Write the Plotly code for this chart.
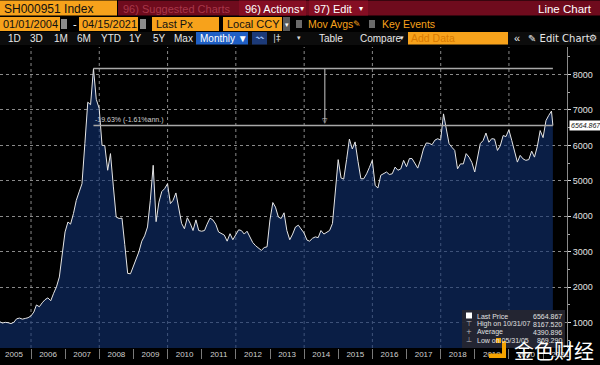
import pandas as pd
import plotly.graph_objects as go

# ---------------- data (monthly closes) ----------------
v2004 = [1030]
v2005 = [1030, 990, 1010, 1000, 975, 1010, 1110, 1130, 1100, 1120, 1140, 1190]
v2006 = [1300, 1500, 1450, 1560, 1650, 1700, 1620, 1830, 2010, 2290, 2900, 3560]
v2007 = [3840, 3780, 4080, 4450, 4690, 4920, 6050, 7220, 7150, 8167.52, 7300, 7050]
v2008 = [6000, 6000, 5300, 5770, 4830, 3980, 3940, 3950, 3200, 2390, 2380, 2600]
v2009 = [2800, 3000, 3300, 3450, 3700, 4450, 5440, 3850, 4400, 4700, 4780, 4920]
v2010 = [4360, 4450, 4660, 4250, 3800, 3650, 3960, 3800, 3600, 3900, 3600, 3580]
v2011 = [3600, 3780, 3950, 3900, 3780, 3560, 3520, 3470, 3300, 3510, 3340, 3500]
v2012 = [3620, 3600, 3500, 3580, 3400, 3260, 3170, 3100, 3040, 3120, 3140, 3900]
v2013 = [4390, 4260, 3980, 3940, 4100, 3600, 3340, 3500, 3700, 3750, 3650, 3530]
v2014 = [3330, 3300, 3380, 3420, 3400, 3600, 3500, 3550, 3600, 3800, 4700, 5600]
v2015 = [5080, 5050, 5600, 6180, 5900, 6100, 5550, 5060, 5060, 5200, 5380, 5580]
v2016 = [4870, 4800, 5160, 5200, 5250, 5180, 5200, 5390, 5300, 5340, 5580, 5400]
v2017 = [5630, 5630, 5500, 5360, 5600, 5900, 6070, 6060, 6020, 6150, 6190, 6150]
v2018 = [6890, 6510, 6050, 5950, 5860, 5340, 5480, 5480, 5770, 5670, 5520, 5250]
v2019 = [5670, 6050, 6140, 6350, 6090, 6190, 6180, 5860, 5990, 6280, 6250, 6440]
v2020 = [6140, 5860, 5530, 5720, 5620, 5580, 5600, 5840, 5670, 5980, 6420, 6220]
v2021 = [6700, 6840, 6970, 6564.867]

values = (v2004 + v2005 + v2006 + v2007 + v2008 + v2009 + v2010 + v2011 + v2012
          + v2013 + v2014 + v2015 + v2016 + v2017 + v2018 + v2019 + v2020 + v2021)
dates = list(pd.date_range("2004-12-31", "2021-03-31", freq=pd.offsets.MonthEnd()))
dates.append(pd.Timestamp("2021-04-15"))

last_price = 6564.867
high_price = 8167.52
high_date = "2007-10-31"
last_date = "2021-04-15"
arrow_date = "2014-08-10"
years = list(range(2005, 2022))
year_labels = [str(y) for y in years]
yticks = [1000, 2000, 3000, 4000, 5000, 6000, 7000, 8000]

# ---------------- layout helpers ----------------
W_PX, H_PX = 600, 365
ML, MR, MT, MB = 0, 33, 47, 17
PW, PH = W_PX - ML - MR, H_PX - MT - MB
FONT = "Liberation Sans"
ORANGE = "#f7a21b"

shapes, annots = [], []


def px(x):
    return (x - ML) / PW


def py(y):
    return (H_PX - MB - y) / PH


def box(x0, y0, x1, y1, color, layer="above"):
    shapes.append(dict(type="rect", xref="paper", yref="paper",
                       x0=px(x0), x1=px(x1), y0=py(y1), y1=py(y0),
                       fillcolor=color, line=dict(width=0), layer=layer))


def label(x, y, text, color="#ffffff", size=11, anchor="left", family=FONT):
    annots.append(dict(xref="paper", yref="paper", x=px(x), y=py(y), text=text,
                       showarrow=False, xanchor=anchor, yanchor="middle",
                       borderpad=0, font=dict(family=family, size=size, color=color)))


# ---------------- figure ----------------
fig = go.Figure()
fig.add_trace(go.Scatter(
    x=dates, y=values, mode="lines",
    line=dict(color="#e6e6e6", width=1),
    fill="tozeroy", fillcolor="rgba(16,48,112,0.62)",
    hoverinfo="skip", showlegend=False))

# vertical dotted grid every two years
for yr in range(2006, 2021, 2):
    shapes.append(dict(type="line", xref="x", yref="paper", x0=f"{yr}-01-01", x1=f"{yr}-01-01",
                       y0=0, y1=1, line=dict(color="#8a8a8a", width=1, dash="dot"), layer="below"))

# high / last price lines and arrow
shapes.append(dict(type="line", xref="x", yref="y", x0=high_date, x1=last_date,
                   y0=high_price, y1=high_price, line=dict(color="#a8a8a8", width=1.5)))
shapes.append(dict(type="line", xref="x", yref="y", x0=high_date, x1=last_date,
                   y0=last_price, y1=last_price, line=dict(color="#a8a8a8", width=1.5)))
shapes.append(dict(type="line", xref="x", yref="y", x0=arrow_date, x1=arrow_date,
                   y0=high_price, y1=last_price + 80, line=dict(color="#a8a8a8", width=1.2)))
annots.append(dict(xref="x", yref="y", x=arrow_date, y=last_price, text="▽", showarrow=False,
                   yanchor="bottom", xanchor="center", yshift=-1, borderpad=0,
                   font=dict(family="DejaVu Sans", size=7, color="#c8c8c8")))
annots.append(dict(xref="x", yref="y", x=high_date, y=last_price, text="-19.63% (-1.61%ann.)",
                   showarrow=False, xanchor="left", yanchor="bottom", xshift=1, yshift=0,
                   borderpad=0, font=dict(family=FONT, size=7, color="#d0d0d0")))

# last price tag on the axis
annots.append(dict(xref="paper", yref="y", x=px(569), y=last_price, text="<i>6564.867</i>",
                   showarrow=False, xanchor="left", yanchor="middle", bgcolor="#ffffff",
                   borderpad=1, font=dict(family=FONT, size=7, color="#111111")))

# ---- toolbar row 1 ----
box(0, 0, 600, 16, "#000000")
box(0, 0.5, 117, 15.5, ORANGE)
label(3, 8.5, "SH000951 Index", "#111111", 12)
box(118, 0.5, 600, 15.5, "#6f0b1d")
label(122, 8.5, "96) Suggested Charts", "#a8374a", 11)
box(239, 0.5, 306, 15.5, "#850e23")
label(244, 8.5, "96) Actions", "#ffffff", 11)
label(299, 8.5, "▾", "#ffffff", 8)
box(309, 0.5, 368, 15.5, "#850e23")
label(313, 8.5, "97) Edit", "#ffffff", 11)
label(358, 8.5, "▾", "#ffffff", 8)
label(593, 8.5, "Line Chart", "#ffffff", 11.5, anchor="right")

# ---- toolbar row 2 ----
box(0, 17, 60, 31, ORANGE)
label(2, 24.5, "01/01/2004", "#111111", 11)
box(61, 19, 67, 29, "#8a8a8a")
label(72, 24, "-", "#ffffff", 11)
box(79, 17, 138, 31, ORANGE)
label(81, 24.5, "04/15/2021", "#111111", 11)
box(140, 19, 146, 29, "#8a8a8a")
box(152, 17, 219, 31, ORANGE)
label(155, 24.5, "Last Px", "#111111", 11)
box(223, 17, 282, 31, ORANGE)
label(226, 24.5, "Local CCY", "#111111", 11)
box(283, 17, 290, 31, "#5a5a5a")
label(286.5, 24, "▾", "#ffffff", 7, anchor="center")
box(296, 20, 302, 28, "#6a6a6a")
label(307, 24.5, "Mov Avgs", ORANGE, 10.5)
label(352, 24, "✎", ORANGE, 9, family="DejaVu Sans")
box(369, 20, 375, 28, "#6a6a6a")
label(381, 24.5, "Key Events", ORANGE, 10.5)

# ---- toolbar row 3 ----
box(0, 32, 600, 45, "#0c0c0c")
for tx, xx in [("1D", 7), ("3D", 29), ("1M", 53), ("6M", 76), ("YTD", 100),
               ("1Y", 128), ("5Y", 152), ("Max", 173)]:
    label(xx, 38.5, tx, "#e8e8e8", 10)
box(196, 32, 248, 44.5, "#1f5fc4")
label(199, 38.5, "Monthly ▼", "#ffffff", 10)
box(252, 32, 267, 44.5, "#1c3a78")
label(259.5, 38, "〰", "#9fc2ff", 8, anchor="center", family="DejaVu Sans")
label(272, 38, "|‡", "#d8d8d8", 9, family="DejaVu Sans")
label(296, 38, "▾", "#d8d8d8", 7)
label(318, 38.5, "Table", "#e8e8e8", 10)
label(359, 38.5, "Compare", "#e8e8e8", 10)
label(399, 38, "▾", "#e8e8e8", 7)
box(408, 32, 508, 44.5, ORANGE)
label(410, 38.5, "Add Data", "#d97a00", 10.5)
label(513, 38, "«", "#e8e8e8", 11)
label(527, 38.5, "✎ Edit Chart", "#e8e8e8", 10, family="DejaVu Sans")
label(588, 38, "⚙", "#e8e8e8", 9, family="DejaVu Sans")

# ---- legend box ----
box(462, 310, 565, 348, "rgba(38,38,48,0.9)")
box(466, 312.5, 472, 318.5, "#ffffff")
label(469, 324, "⊤", "#bbbbbb", 7, anchor="center", family="DejaVu Sans")
label(469, 332, "+", "#bbbbbb", 7, anchor="center", family="DejaVu Sans")
label(469, 340, "⊥", "#bbbbbb", 7, anchor="center", family="DejaVu Sans")
rows = [("Last Price", "6564.867", 316), ("High on 10/31/07", "8167.520", 324),
        ("Average", "4390.896", 332), ("Low on 05/31/05", "869.290", 340)]
for name, val, yy in rows:
    label(476, yy, name, "#e0e0e0", 7)
    label(563, yy, val, "#e0e0e0", 7, anchor="right")

# ---- watermark ----
box(496, 338, 501, 343, "#f5a300")
box(502, 341, 506, 358, "#f5a300")
box(489, 353.5, 506, 358, "#f5a300")
label(513, 350, "金色财经", "#ffffff", 20, family="Noto Sans CJK SC")

fig.update_layout(
    width=W_PX, height=H_PX,
    margin=dict(l=ML, r=MR, t=MT, b=MB, pad=0),
    paper_bgcolor="#000000", plot_bgcolor="#000000",
    shapes=shapes, annotations=annots, showlegend=False,
    xaxis=dict(
        type="date", range=["2005-02-03", "2021-09-13"], automargin=False,
        tickvals=[f"{y}-07-02" for y in years], ticktext=year_labels,
        ticks="", showgrid=False, zeroline=False, showline=False,
        tickfont=dict(family=FONT, size=8, color="#d0d0d0"),
        minor=dict(tick0="2005-01-01", dtick="M12", ticks="outside", ticklen=10,
                   tickcolor="#7a7a7a", tickwidth=1, showgrid=False),
    ),
    yaxis=dict(
        side="right", range=[286, 8777], automargin=False,
        tickvals=yticks, ticks="outside", ticklen=3, tickcolor="#dddddd",
        showline=True, linecolor="#8a8a8a", linewidth=1,
        showgrid=True, gridcolor="#8a8a8a", griddash="dot", gridwidth=1,
        zeroline=False, tickformat="d",
        tickfont=dict(family=FONT, size=9, color="#e0e0e0"),
        minor=dict(dtick=500, tick0=500, ticks="outside", ticklen=2, tickcolor="#aaaaaa",
                   showgrid=False),
    ),
)

fig.write_html("out.html", config={"displayModeBar": False},
               post_script="document.body.style.margin='0px';document.body.style.background='#000';")
